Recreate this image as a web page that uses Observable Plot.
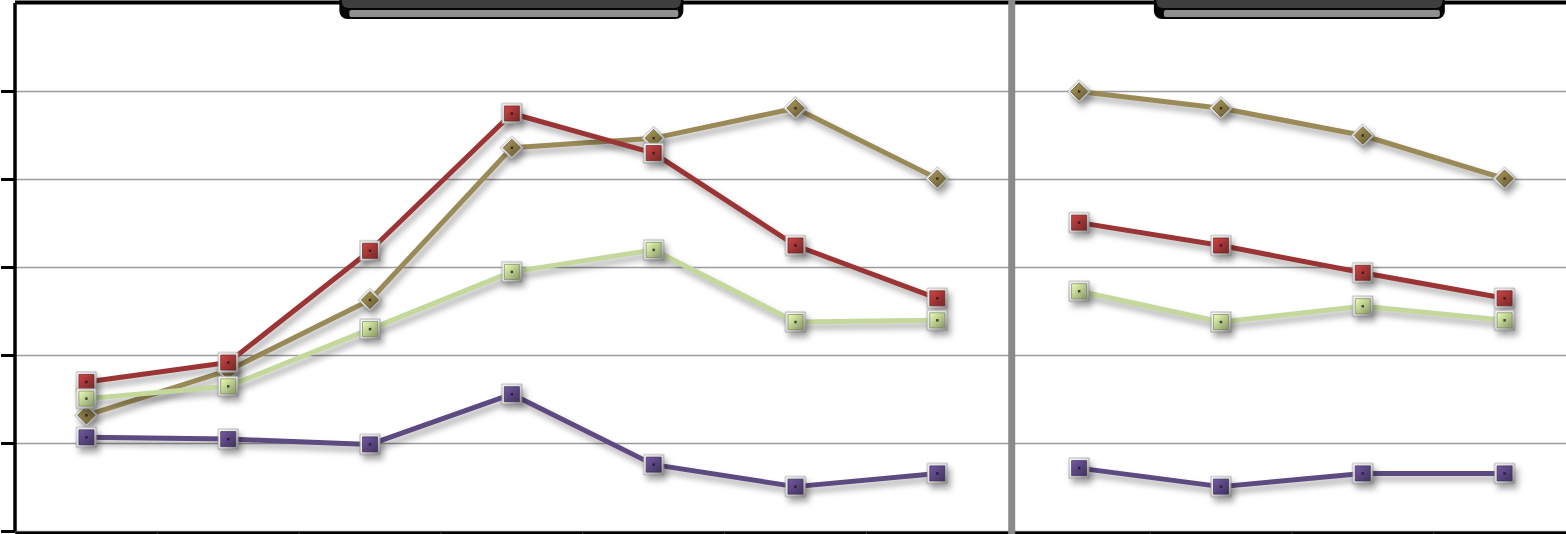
<!DOCTYPE html>
<html>
<head>
<meta charset="utf-8">
<script src="https://cdn.jsdelivr.net/npm/d3@7"></script>
<script src="https://cdn.jsdelivr.net/npm/@observablehq/plot@0.6"></script>
<style>
  html, body { margin: 0; padding: 0; background: #fff; overflow: hidden; }
  #chart { width: 1566px; height: 534px; }
  .drop { filter: drop-shadow(3px 5px 3px rgba(0, 0, 0, 0.35)); }
</style>
</head>
<body>
<svg width="0" height="0" style="position:absolute" id="defs-holder"><defs id="defs"></defs></svg>
<div id="chart"></div>
<script>
// Categories: seven periods in the left panel, four in the right panel
const leftPeriods = ["P1", "P2", "P3", "P4", "P5", "P6", "P7"];
const rightPeriods = ["Q1", "Q2", "Q3", "Q4"];

// Series, in drawing order
const seriesNames = ["olive", "red", "green", "purple"];
const seriesColors = ["#9a8a57", "#9b3434", "#c5d89c", "#5d4a80"];
const markerColors = ["#8a7b45", "#a23636", "#b9cc8c", "#5a4580"];
const markerShapes = ["diamond2", "square", "square", "square"];

// Values per series (left panel, right panel)
const oliveLeft = [1.32, 1.83, 2.63, 4.36, 4.47, 4.81, 4.01];
const oliveRight = [5.00, 4.81, 4.50, 4.01];
const redLeft = [1.70, 1.92, 3.19, 4.75, 4.30, 3.25, 2.65];
const redRight = [3.51, 3.25, 2.94, 2.65];
const greenLeft = [1.51, 1.65, 2.30, 2.95, 3.20, 2.38, 2.40];
const greenRight = [2.73, 2.38, 2.56, 2.40];
const purpleLeft = [1.07, 1.05, 0.99, 1.56, 0.76, 0.51, 0.66];
const purpleRight = [0.72, 0.51, 0.66, 0.66];

const leftValues = [oliveLeft, redLeft, greenLeft, purpleLeft];
const rightValues = [oliveRight, redRight, greenRight, purpleRight];

// Axis ticks
const yTicks = [0, 1, 2, 3, 4, 5];
const gridTicks = [1, 2, 3, 4, 5];
const nCats = leftPeriods.length + rightPeriods.length;
const bandEdges = d3.range(0, nCats + 1);

// Long-format table: one row per series, panel and period
const rows = [];
seriesNames.forEach((s, si) => {
  leftValues[si].forEach((v, i) => rows.push({series: s, panel: "left", period: leftPeriods[i], pos: i + 0.5, value: v}));
  rightValues[si].forEach((v, i) => rows.push({series: s, panel: "right", period: rightPeriods[i], pos: leftPeriods.length + i + 0.5, value: v}));
});

// Gradients for the bevelled markers
const defs = d3.select("#defs");
function gradient(id, stops) {
  const g = defs.append("linearGradient").attr("id", id)
    .attr("x1", 0).attr("y1", 0).attr("x2", 1).attr("y2", 1);
  stops.forEach(([o, c]) => g.append("stop").attr("offset", o).attr("stop-color", c));
}
gradient("frame", [[0, "#ffffff"], [0.45, "#e8e8e8"], [1, "#8a8a8a"]]);
seriesNames.forEach((s, i) => {
  const c = d3.color(markerColors[i]);
  gradient("fill-" + s, [[0, c.brighter(0.7).formatHex()], [0.5, c.formatHex()], [1, c.darker(0.9).formatHex()]]);
});

const marks = [
  Plot.gridY(gridTicks, {stroke: "#9c9c9c", strokeOpacity: 1, strokeWidth: 1.5}),
  Plot.ruleY([0], {stroke: "#9c9c9c", strokeWidth: 1.5})
];

// Lines, split by panel
seriesNames.forEach((s, i) => {
  marks.push(Plot.line(rows.filter(d => d.series === s), {
    x: "pos", y: "value", z: "panel",
    stroke: seriesColors[i], strokeWidth: 5, strokeLinejoin: "round", className: "drop"
  }));
});

// Markers: silver frame, coloured bevelled face, dark centre notch
seriesNames.forEach((s, i) => {
  const data = rows.filter(d => d.series === s);
  const diamond = markerShapes[i] === "diamond2";
  marks.push(
    Plot.dot(data, {x: "pos", y: "value", symbol: markerShapes[i], r: diamond ? 10.6 : 11.3,
      fill: "url(#frame)", stroke: "#808080", strokeWidth: 0.6, className: "drop"}),
    Plot.dot(data, {x: "pos", y: "value", symbol: markerShapes[i], r: diamond ? 7.8 : 8.5,
      fill: `url(#fill-${s})`, stroke: d3.color(markerColors[i]).darker(1.2).formatHex(), strokeWidth: 0.7}),
    Plot.dot(data, {x: "pos", y: "value", symbol: "square", r: 1.4, fill: "#1c1420", fillOpacity: 0.75})
  );
});

// Frame: axes, borders and panel separator
marks.push(
  Plot.axisY(yTicks, {tickSize: 14, tickFormat: () => "", stroke: "#000", strokeWidth: 3}),
  Plot.ruleX([0], {stroke: "#000", strokeWidth: 3.5, dx: -0.5}),
  Plot.ruleY([0], {stroke: "#000", strokeWidth: 3, dy: 1.5}),
  Plot.ruleY([6], {stroke: "#000", strokeWidth: 4, dy: -1}),
  Plot.ruleX(bandEdges, {y1: 0, y2: -0.1, stroke: "#3a3a3a", strokeWidth: 1}),
  Plot.ruleX([leftPeriods.length], {y1: -0.1, y2: 6.1, stroke: "#8a8a8a", strokeWidth: 7, dx: 3.5})
);

const chart = Plot.plot({
  width: 1566,
  height: 534,
  marginLeft: 15,
  marginRight: -9,
  marginTop: 3,
  marginBottom: 3,
  style: {background: "#fff", overflow: "hidden"},
  x: {type: "linear", domain: [0, nCats], axis: null},
  y: {type: "linear", domain: [0, 6], axis: null, label: null},
  marks
});

// Panel title tabs hanging from the top border
const svg = d3.select(chart);
const xs = chart.scale("x");
function tab(cx, w) {
  const g = svg.append("g");
  const x0 = cx - w / 2;
  g.append("rect").attr("x", x0).attr("y", -12).attr("width", w).attr("height", 31)
    .attr("rx", 8).attr("fill", "#050505");
  g.append("rect").attr("x", x0 + 2.5).attr("y", -12).attr("width", w - 5).attr("height", 20)
    .attr("rx", 6).attr("fill", "#3e3e3e");
  g.append("rect").attr("x", x0 + 10).attr("y", 10).attr("width", w - 15).attr("height", 7)
    .attr("rx", 2).attr("fill", "#8f8f8f");
}
tab(xs.apply(leftPeriods.length / 2), 344);
tab(xs.apply(leftPeriods.length + rightPeriods.length / 2) + 8, 291);

document.getElementById("chart").appendChild(chart);
</script>
</body>
</html>
